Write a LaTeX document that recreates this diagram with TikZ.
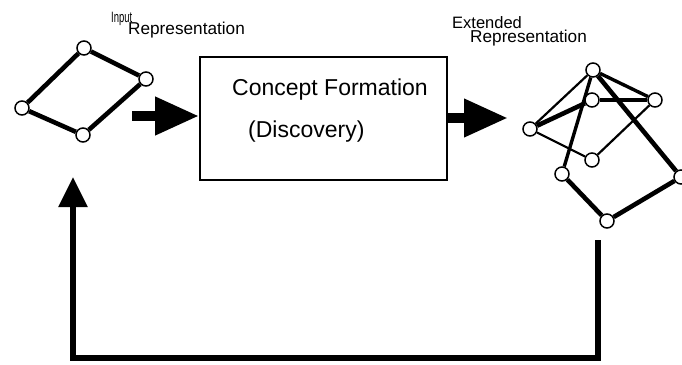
\documentclass[tikz,border=0pt]{standalone}
\usepackage{fontspec}
\setmainfont{Liberation Sans}
\usetikzlibrary{arrows.meta,backgrounds}
\begin{document}
\begin{tikzpicture}[x=1pt,y=-1pt,
  vtx/.style={circle,draw,fill=white,line width=1.5pt,minimum size=14pt,inner sep=0pt},
  thickedge/.style={line width=4.6pt},
  mededge/.style={line width=3.4pt},
  thinedge/.style={line width=2.2pt},
  bigarrow/.style={line width=10pt,-{Triangle[length=44pt,width=36pt]}},
  fbarrow/.style={line width=5.5pt,miter limit=10,-{Triangle[length=30pt,width=28pt]}},
  lbl/.style={anchor=base west,inner sep=0pt,font=\fontsize{17.2}{17.2}\selectfont},
  boxtext/.style={anchor=base west,inner sep=0pt,font=\fontsize{23}{23}\selectfont},
  procbox/.style={draw,line width=1.8pt,minimum width=247pt,minimum height=123pt,inner sep=0pt}
]
\useasboundingbox (0,0) rectangle (682,364);

% labels
\node[lbl,font=\fontsize{15}{15}\selectfont] (inA) at (111,23) {\scalebox{0.63}[1]{Input}};
\node[lbl] (inB) at (128,34) {Representation};
\node[lbl,font=\fontsize{16.5}{16.5}\selectfont] (exA) at (452,28) {Extended};
\node[lbl] (exB) at (470,42) {Representation};

% left graph
\node[vtx] (lt) at (84,48) {};
\node[vtx] (lr) at (146,79) {};
\node[vtx] (ll) at (22,108) {};
\node[vtx] (lb) at (83,135) {};
\begin{scope}[on background layer]
\draw[thickedge] (lt) -- (lr);
\draw[thickedge] (lr) -- (lb);
\draw[thickedge] (lb) -- (ll);
\draw[thickedge] (ll) -- (lt);
\end{scope}

% process box
\node[procbox] (box) at (323.5,118.5) {};
\node[boxtext] (cf) at (232,95) {Concept Formation};
\node[boxtext] (disc) at (248,137) {(Discovery)};

% arrows in/out
\coordinate (inS) at (132,116);
\draw[bigarrow] (inS) -- (inS -| box.west);
\coordinate (outE) at (508,118);
\draw[bigarrow] (box.east |- outE) -- (outE);

% right graph
\node[vtx] (A) at (593,70) {};
\node[vtx] (B) at (592,100) {};
\node[vtx] (C) at (655,100) {};
\node[vtx] (D) at (530,129) {};
\node[vtx] (E) at (592,160) {};
\node[vtx] (F) at (562,174) {};
\node[vtx] (G) at (681,177) {};
\node[vtx] (H) at (607,221) {};
\begin{scope}[on background layer]
\draw[thinedge] (A) -- (D);
\draw[mededge] (A) -- (C);
\draw[mededge] (A) -- (F);
\draw[thickedge] (A) -- (G);
\draw[thickedge] (D) -- (B);
\draw[thickedge] (B) -- (C);
\draw[thinedge] (D) -- (E);
\draw[thinedge] (E) -- (C);
\draw[thickedge] (F) -- (H);
\draw[thickedge] (H) -- (G);
\end{scope}

% feedback loop
\coordinate (fbS) at (598,240);
\coordinate (fbC) at (73,358);
\coordinate (fbT) at (73,177);
\draw[fbarrow] (fbS) |- (fbC) -- (fbT);
\end{tikzpicture}
\end{document}
